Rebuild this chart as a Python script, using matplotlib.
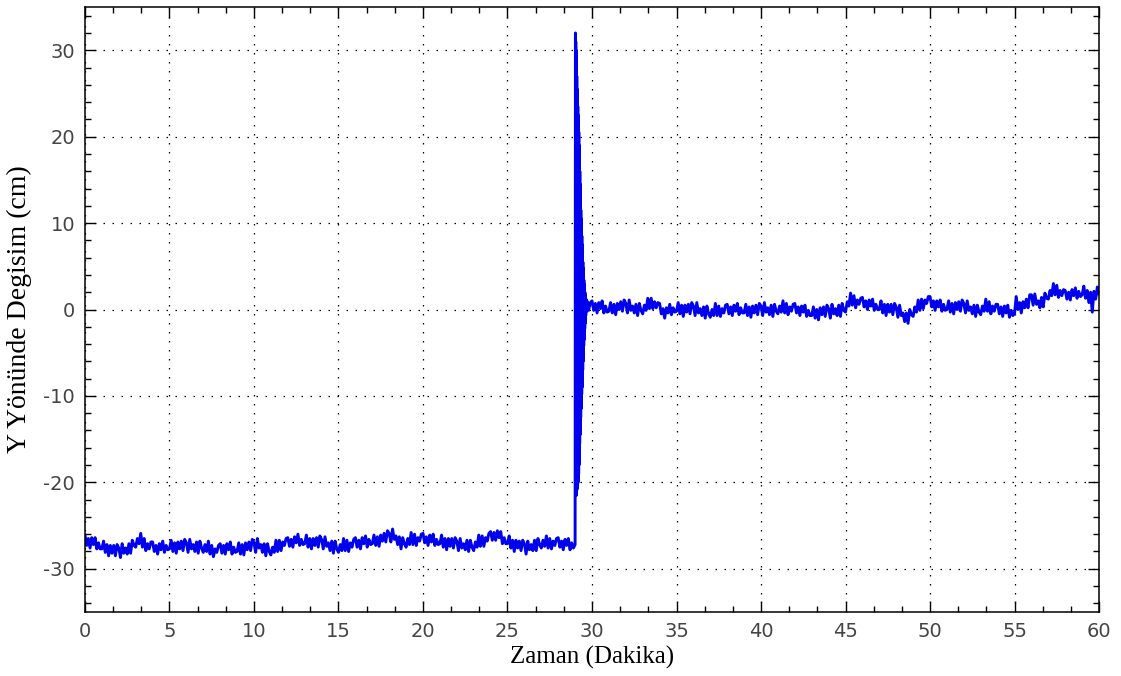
import numpy as np
import matplotlib.pyplot as plt
from matplotlib.ticker import MultipleLocator

plt.rcParams['axes.unicode_minus'] = False

# Y displacement (cm)
# before the jump: 0.0 .. 29.0 min, every 0.1 min
y_before = [
    -26.1, -27.3, -26.5, -27.6, -26.4, -27.2, -26.4, -27.7, -27.0, -27.7,
    -27.7, -26.8, -28.1, -27.2, -28.5, -27.3, -28.2, -27.3, -28.5, -27.2,
    -27.6, -28.7, -27.1, -28.2, -27.6, -28.3, -27.1, -28.2, -26.7, -27.3,
    -27.5, -26.5, -27.1, -25.9, -27.5, -26.5, -27.9, -27.1, -27.7, -26.9,
    -26.9, -28.0, -27.3, -28.3, -27.1, -27.8, -26.8, -28.1, -27.3, -27.8,
    -27.7, -26.7, -28.0, -27.0, -28.2, -26.9, -27.7, -26.8, -27.9, -26.6,
    -27.0, -28.1, -26.6, -27.7, -27.2, -28.0, -26.9, -28.2, -26.8, -27.6,
    -28.1, -27.2, -28.0, -26.8, -28.3, -27.3, -28.6, -27.7, -28.1, -27.3,
    -27.1, -28.2, -27.3, -28.3, -27.1, -27.8, -26.9, -28.3, -27.5, -28.1,
    -28.0, -27.0, -28.3, -27.2, -28.4, -27.0, -27.8, -26.9, -27.9, -26.6,
    -27.0, -28.1, -26.5, -27.6, -27.2, -28.1, -27.1, -28.5, -27.1, -28.0,
    -28.4, -27.5, -28.1, -26.7, -28.0, -26.7, -27.9, -26.9, -27.3, -26.5,
    -26.4, -27.4, -26.6, -27.5, -26.3, -27.0, -26.0, -27.3, -26.6, -27.2,
    -27.1, -26.1, -27.5, -26.5, -27.7, -26.5, -27.3, -26.4, -27.5, -26.2,
    -26.6, -27.7, -26.3, -27.4, -27.0, -27.9, -26.8, -28.2, -26.8, -27.7,
    -28.1, -27.2, -27.9, -26.5, -27.9, -26.7, -28.0, -27.0, -27.5, -26.6,
    -26.4, -27.5, -26.7, -27.7, -26.4, -27.1, -26.2, -27.5, -26.6, -27.2,
    -27.1, -26.1, -27.3, -26.3, -27.4, -26.1, -26.8, -25.9, -26.9, -25.6,
    -25.9, -26.9, -25.4, -26.6, -26.2, -27.2, -26.3, -27.7, -26.4, -27.1,
    -27.5, -26.5, -27.2, -25.8, -27.2, -26.0, -27.3, -26.4, -26.8, -26.0,
    -25.9, -27.0, -26.3, -27.3, -26.1, -26.9, -26.0, -27.3, -26.6, -27.2,
    -27.1, -26.1, -27.5, -26.5, -27.8, -26.5, -27.4, -26.5, -27.6, -26.4,
    -26.8, -27.9, -26.5, -27.6, -27.1, -27.8, -26.7, -28.0, -26.7, -27.5,
    -27.9, -26.9, -27.5, -26.1, -27.4, -26.2, -27.4, -26.4, -26.8, -25.9,
    -25.7, -26.7, -25.8, -26.7, -25.6, -26.4, -25.7, -27.1, -26.4, -27.1,
    -27.1, -26.2, -27.6, -26.7, -28.0, -26.7, -27.6, -26.8, -27.9, -26.7,
    -27.1, -28.3, -26.8, -27.8, -27.2, -27.9, -26.7, -27.9, -26.5, -27.2,
    -27.6, -26.7, -27.4, -26.2, -27.6, -26.5, -27.7, -26.8, -27.3, -26.5,
    -26.4, -27.5, -26.8, -27.8, -26.6, -27.3, -26.5, -27.8, -27.0, -27.6,
    -27.2,
]

# the jump and its decaying oscillation: 29.01 .. 29.69 min, every 0.01 min
y_spike = [
    10.0, 32.0, -21.0, 31.0, -21.5, 30.0, -21.5, 28.5, -21.0, 27.0,
    -20.8, 25.5, -20.5, 24.5, -20.2, 23.5, -20.0, 22.5, -19.5, 21.5,
    -19.0, 20.5, -18.0, 19.0, -16.5, 17.5, -15.5, 16.0, -14.5, 14.5,
    -13.5, 13.0, -12.5, 11.5, -11.5, 10.5, -10.5, 9.5, -9.8, 8.5,
    -9.0, 7.5, -8.0, 6.5, -7.0, 5.5, -6.0, 4.8, -5.0, 4.0,
    -4.2, 3.4, -3.5, 2.9, -2.8, 2.4, -2.2, 2.0, -1.6, 1.7,
    -1.1, 1.4, -0.7, 1.2, -0.3, 1.1, -0.1, 0.9, 0.0,
]

# after the jump: 29.7 .. 60.0 min, every 0.1 min
y_after = [
    1.0, -0.1, 0.8,
    1.0, -0.1, 0.7, -0.4, 0.8, 0.1, 1.0, -0.4, 0.4, -0.3,
    -0.2, 0.8, -0.4, 0.6, -0.6, 0.7, 0.0, 0.9, -0.2, 1.1,
    0.7, -0.4, 1.1, -0.1, 0.4, -0.4, 0.6, -0.7, 0.7, -0.1,
    -0.5, 0.5, -0.1, 1.3, 0.1, 1.3, 0.1, 0.9, 0.2, 0.8,
    0.7, -0.5, 0.1, -1.0, 0.2, -0.4, 0.6, -0.6, 0.2, -0.3,
    -0.2, 0.8, -0.5, 0.5, -0.8, 0.5, -0.3, 0.6, -0.5, 0.8,
    0.4, -0.7, 0.8, -0.4, 0.1, -0.7, 0.3, -1.0, 0.4, -0.5,
    -0.9, 0.0, -0.7, 0.7, -0.7, 0.4, -0.8, 0.1, -0.4, 0.5,
    0.6, -0.5, 0.3, -0.7, 0.5, -0.2, 0.7, -0.6, 0.2, -0.4,
    -0.4, 0.6, -0.7, 0.3, -0.9, 0.4, -0.4, 0.5, -0.6, 0.7,
    0.4, -0.7, 0.8, -0.3, 0.2, -0.6, 0.5, -0.8, 0.6, -0.2,
    -0.5, 0.4, -0.3, 1.0, -0.4, 0.7, -0.6, 0.3, -0.2, 0.6,
    0.7, -0.4, 0.3, -0.7, 0.4, -0.3, 0.5, -0.8, -0.1, -0.7,
    -0.7, 0.3, -1.0, 0.0, -1.2, 0.2, -0.6, 0.3, -0.8, 0.5,
    0.1, -1.0, 0.6, -0.5, 0.1, -0.7, 0.5, -0.8, 0.7, -0.1,
    -0.3, 0.9, 0.4, 1.9, 0.5, 1.6, 0.2, 1.1, 0.6, 1.3,
    1.4, 0.3, 1.0, 0.0, 1.1, 0.4, 1.2, -0.1, 0.6, 0.0,
    0.0, 1.0, -0.4, 0.6, -0.7, 0.6, -0.3, 0.6, -0.6, 0.7,
    0.3, -0.9, 0.5, -0.7, -0.4, -1.4, -0.4, -1.6, 0.0, -0.6,
    -0.8, 0.3, -0.3, 1.1, -0.1, 1.2, 0.1, 1.1, 0.7, 1.5,
    1.5, 0.3, 1.0, -0.1, 1.0, 0.3, 1.1, -0.2, 0.6, -0.1,
    0.0, 1.0, -0.3, 0.7, -0.5, 0.8, 0.0, 0.9, -0.2, 1.1,
    0.7, -0.4, 1.0, -0.1, 0.3, -0.5, 0.5, -0.8, 0.5, -0.3,
    -0.6, 0.4, -0.2, 1.2, -0.2, 0.9, -0.5, 0.4, -0.2, 0.6,
    0.6, -0.5, 0.3, -0.8, 0.4, -0.4, 0.5, -0.9, -0.1, -0.7,
    -0.5, 1.5, 0.0, 0.8, -0.4, 0.9, 0.2, 1.2, 0.2, 1.7,
    1.7, 0.5, 1.8, 0.6, 1.0, 0.2, 1.4, 0.3, 1.9, 1.3,
    1.2, 2.2, 1.6, 3.0, 1.7, 2.8, 1.4, 2.2, 1.6, 2.3,
    2.2, 1.2, 2.0, 1.1, 2.3, 1.6, 2.5, 1.3, 2.1, 1.5,
    1.7, 2.7, 1.3, 2.2, 0.8, 2.0, -0.3, 2.1, 1.2, 2.6,
    1.8,
]

t_before = 0.1 * np.arange(len(y_before))
t_spike = 29.01 + 0.01 * np.arange(len(y_spike))
t_after = 29.7 + 0.1 * np.arange(len(y_after))

t = np.concatenate([t_before, t_spike, t_after])
y = np.concatenate([y_before, y_spike, y_after])

fig = plt.figure(figsize=(11.21, 6.76), dpi=100)
ax = fig.add_axes([0.0758, 0.0947, 0.9046, 0.8949])

ax.plot(t, y, color='#0000ee', lw=2.1)

ax.set_xlim(0, 60)
ax.set_ylim(-35, 35)
ax.xaxis.set_major_locator(MultipleLocator(5))
ax.xaxis.set_minor_locator(MultipleLocator(5 / 3))
ax.yaxis.set_major_locator(MultipleLocator(10))
ax.yaxis.set_minor_locator(MultipleLocator(2))

ax.grid(True, which='major', color='black', lw=0.9, linestyle=(0, (1.2, 6.0)))
ax.tick_params(which='both', direction='in', top=True, right=True,
               colors='black', labelcolor='#444444', labelsize=14)
ax.tick_params(which='major', length=8, width=1.0, pad=7)
ax.tick_params(which='minor', length=4, width=1.0)
for s in ax.spines.values():
    s.set_linewidth(1.1)

ax.set_xlabel('Zaman (Dakika)', family='Liberation Serif', fontsize=18, labelpad=4)
ax.set_ylabel('Y Yönünde Degisim (cm)', family='Liberation Serif', fontsize=20, labelpad=8)

fig.savefig('out.png', dpi=100)
